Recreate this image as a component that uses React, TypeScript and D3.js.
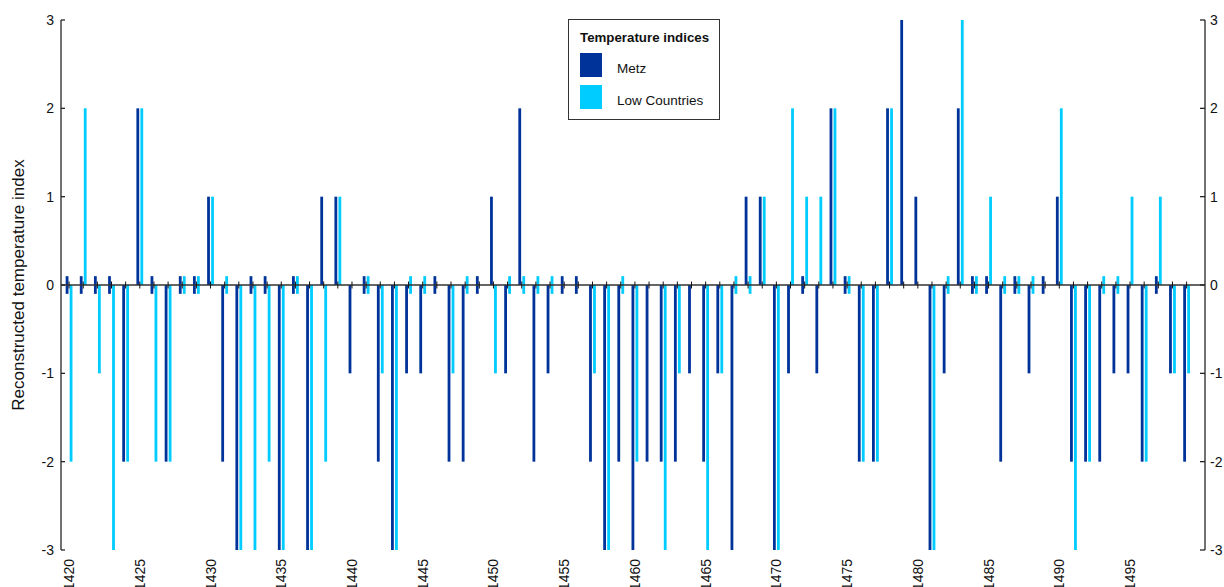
import React from "react";
import * as d3 from "d3";

const years: number[] = d3.range(1420, 1500);

const metz: (number | null)[] = [
  0, 0, 0, 0, -2, 2, 0, -2, 0, 0,
  1, -2, -3, 0, 0, -3, 0, -3, 1, 1,
  -1, 0, -2, -3, -1, -1, 0, -2, -2, 0,
  1, -1, 2, -2, -1, 0, 0, -2, -3, -2,
  -3, -2, -2, -2, -1, -2, -1, -3, 1, 1,
  -3, -1, 0, -1, 2, 0, -2, -2, 2, 3,
  1, -3, -1, 2, 0, 0, -2, 0, -1, 0,
  1, -2, -2, -2, -1, -1, -2, 0, -1, -2,
];

const lowCountries: (number | null)[] = [
  -2, 2, -1, -3, -2, 2, -2, -2, 0, 0,
  1, 0, -3, -3, -2, -3, 0, -3, -2, 1,
  null, 0, -1, -3, 0, 0, null, -1, 0, null,
  -1, 0, 0, 0, 0, null, null, -1, -3, 0,
  -2, null, -3, -1, null, -3, -1, 0, 0, 1,
  -3, 2, 1, 1, 2, 0, -2, -2, 2, null,
  null, -3, 0, 3, 0, 1, 0, 0, 0, null,
  2, -3, -2, 0, 0, 1, -2, 1, -1, -1,
];

const yTicks: number[] = [-3, -2, -1, 0, 1, 2, 3];
const xLabelYears: number[] = d3.range(1420, 1500, 5);

const seriesNames = ["Metz", "Low Countries"];
const seriesColors = ["#003399", "#00ccff"];

const W = 1224;
const H = 587;
const FONT = "Arial, 'Liberation Sans', sans-serif";

export default function App() {
  const x = d3.scaleLinear().domain([1419.43, 1500.3]).range([61, 1205]);
  const y = d3.scaleLinear().domain([-3, 3]).range([550, 20]);
  const barW = 2.8;
  const offsets = [-2, 2];
  const stub = 0.1;
  const axisColor = "#262626";

  const series = [metz, lowCountries];

  return (
    <div style={{ position: "absolute", left: 0, top: 0 }}>
      <svg width={W} height={H} style={{ display: "block", fontFamily: FONT }}>
        <rect x={0} y={0} width={W} height={H} fill="#ffffff" />
        {/* bars */}
        {series.map((vals, si) => (
          <g key={si}>
            {vals.map((v, i) => {
              if (v === null) return null;
              const cx = x(years[i]) + offsets[si];
              const top = v === 0 ? y(stub) : y(Math.max(v, 0));
              const bot = v === 0 ? y(-stub) : y(Math.min(v, 0));
              return (
                <rect
                  key={i}
                  x={cx - barW / 2}
                  y={top}
                  width={barW}
                  height={bot - top}
                  fill={seriesColors[si]}
                />
              );
            })}
          </g>
        ))}
        {/* zero axis */}
        <line x1={61} x2={1205} y1={y(0)} y2={y(0)} stroke="#333" strokeWidth={1.3} />
        {years.map((yr) => (
          <line
            key={yr}
            x1={x(yr)}
            x2={x(yr)}
            y1={y(0) - 3.5}
            y2={y(0) + 3.5}
            stroke="#111"
            strokeWidth={1}
          />
        ))}
        {/* left axis */}
        <line x1={61} x2={61} y1={y(3)} y2={y(-3)} stroke={axisColor} strokeWidth={1.3} />
        {yTicks.map((t) => (
          <g key={"l" + t}>
            <line x1={61} x2={65} y1={y(t)} y2={y(t)} stroke={axisColor} strokeWidth={1.3} />
            <text x={54} y={y(t)} dy="0.36em" textAnchor="end" fontSize={14} fill="#111">
              {t}
            </text>
          </g>
        ))}
        {/* right axis */}
        <line x1={1205} x2={1205} y1={y(3)} y2={y(-3)} stroke={axisColor} strokeWidth={1.3} />
        {yTicks.map((t) => (
          <g key={"r" + t}>
            <line x1={1200} x2={1205} y1={y(t)} y2={y(t)} stroke={axisColor} strokeWidth={1.3} />
            <text x={1210} y={y(t)} dy="0.36em" textAnchor="start" fontSize={14} fill="#111">
              {t}
            </text>
          </g>
        ))}
        {/* x labels */}
        {xLabelYears.map((yr) => (
          <text
            key={yr}
            transform={`translate(${x(yr) + 5},559) rotate(-90)`}
            textAnchor="end"
            fontSize={14}
            fill="#111"
          >
            {yr}
          </text>
        ))}
        {/* y title */}
        <text
          transform={`translate(24,${y(0)}) rotate(-90)`}
          textAnchor="middle"
          fontSize={17}
          fill="#111"
        >
          Reconstructed temperature index
        </text>
        {/* legend */}
        <g>
          <rect x={568.5} y={19.5} width={151} height={100} fill="#fff" stroke="#333" strokeWidth={1} />
          <text x={580} y={42} fontSize={13.3} fontWeight="bold" fill="#111">
            Temperature indices
          </text>
          {seriesNames.map((n, i) => (
            <g key={n}>
              <rect x={580} y={53 + i * 32} width={22} height={24} fill={seriesColors[i]} />
              <text x={617} y={73 + i * 32} fontSize={13.5} fill="#111">
                {n}
              </text>
            </g>
          ))}
        </g>
      </svg>
    </div>
  );
}
